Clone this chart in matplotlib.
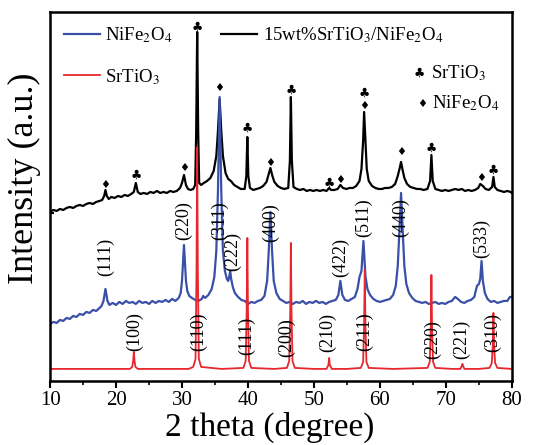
import matplotlib
matplotlib.use("Agg")
import matplotlib.pyplot as plt
from matplotlib.ticker import MultipleLocator

plt.rcParams['font.family'] = ['Liberation Serif', 'DejaVu Sans']
plt.rcParams['mathtext.fontset'] = 'stix'

# ---- data (y in arbitrary units) ----
# SrTiO3 (red)
sto_x = [10.0, 15.0, 20.0, 22.1, 22.45, 22.6, 22.7, 22.8, 22.95, 23.3, 27.0, 31.0,
         31.7, 32.05, 32.2, 32.3, 32.4, 32.55, 32.9, 36.0, 39.3, 39.65, 39.8, 39.9,
         40.0, 40.15, 40.5, 44.0, 45.9, 46.25, 46.4, 46.5, 46.6, 46.75, 47.1, 50.0,
         51.9, 52.2, 52.3, 52.4, 52.7, 55.0, 57.1, 57.45, 57.6, 57.7, 57.8, 57.95,
         58.3, 62.0, 67.2, 67.55, 67.7, 67.8, 67.9, 68.05, 68.4, 71.0, 72.2, 72.4,
         72.5, 72.6, 72.8, 75.0, 76.6, 76.95, 77.1, 77.2, 77.3, 77.45, 77.8, 80.0]
sto_y = [12, 12, 12, 12, 14, 20, 29, 20, 14, 12, 12, 12,
         14, 22, 110, 234, 110, 22, 14, 12, 13, 20, 70, 143,
         70, 20, 13, 12, 13, 20, 68, 138, 68, 20, 13, 12,
         12, 16, 23, 16, 12, 12, 13, 19, 55, 111, 55, 19,
         13, 12, 13, 19, 52, 106, 52, 19, 13, 12, 12, 15,
         17, 15, 12, 12, 13, 18, 36, 68, 36, 18, 13, 12]

# NiFe2O4 (blue)
nfo_x = [10.0, 10.5, 11.0, 11.5, 12.0, 12.5, 13.0, 13.5, 14.0, 14.5, 15.0, 15.5,
         16.0, 16.5, 17.0, 17.5, 17.8, 18.1, 18.4, 18.7, 19.0, 19.5, 20.0, 20.5,
         21.0, 21.5, 22.0, 22.5, 23.0, 23.5, 24.0, 24.5, 25.0, 25.5, 26.0, 26.5,
         27.0, 27.5, 28.0, 28.5, 29.0, 29.5, 29.8, 30.0, 30.15, 30.3, 30.45, 30.6,
         30.8, 31.1, 31.5, 32.0, 32.5, 33.0, 33.2, 33.5, 34.0, 34.5, 34.9, 35.2,
         35.45, 35.7, 35.95, 36.2, 36.5, 36.8, 37.0, 37.15, 37.3, 37.45, 37.7, 38.0,
         38.5, 39.0, 39.5, 40.0, 40.5, 41.0, 41.5, 42.0, 42.5, 42.9, 43.15, 43.4,
         43.65, 43.9, 44.3, 44.8, 45.3, 45.8, 46.3, 46.8, 47.3, 47.8, 48.3, 48.8,
         49.3, 49.8, 50.3, 50.8, 51.3, 51.8, 52.3, 52.8, 53.3, 53.7, 54.0, 54.3,
         54.7, 55.2, 55.7, 56.2, 56.6, 56.9, 57.2, 57.5, 57.8, 58.1, 58.5, 59.0,
         59.5, 60.0, 60.5, 61.0, 61.5, 62.0, 62.4, 62.7, 62.95, 63.2, 63.45, 63.7,
         64.0, 64.4, 64.9, 65.4, 65.9, 66.4, 66.9, 67.4, 67.9, 68.4, 68.9, 69.4,
         69.9, 70.4, 70.9, 71.4, 71.8, 72.3, 72.8, 73.3, 73.8, 74.3, 74.7, 75.0,
         75.2, 75.4, 75.6, 75.9, 76.3, 76.8, 77.3, 77.8, 78.3, 78.8, 79.3, 79.7, 80.0]
nfo_y = [57, 59, 58, 61, 60, 63, 62, 65, 64, 67, 66, 69,
         68, 71, 70, 73, 75, 80, 92, 80, 76, 78, 76, 79,
         77, 80, 78, 79, 77, 80, 78, 79, 77, 80, 78, 80,
         79, 81, 79, 82, 80, 83, 88, 100, 118, 136, 118, 100,
         90, 85, 83, 81, 80, 82, 85, 83, 86, 92, 104, 130,
         190, 284, 190, 130, 110, 102, 100, 104, 110, 102, 94, 88,
         84, 81, 80, 77, 79, 78, 80, 81, 85, 100, 130, 169,
         130, 100, 88, 82, 80, 78, 79, 77, 79, 78, 80, 77,
         79, 78, 80, 78, 79, 77, 79, 80, 81, 86, 100, 86,
         81, 80, 82, 84, 92, 104, 110, 140, 105, 92, 86, 82,
         80, 79, 80, 81, 82, 86, 95, 115, 150, 188, 150, 115,
         97, 88, 83, 80, 79, 78, 79, 77, 78, 79, 77, 78,
         77, 79, 80, 84, 82, 79, 78, 80, 81, 84, 95, 97,
         102, 120, 100, 88, 82, 79, 80, 78, 79, 80, 80, 84, 84]

# 15wt%SrTiO3/NiFe2O4 (black)
comp_x = [10.0, 10.5, 11.0, 11.5, 12.0, 12.5, 13.0, 13.5, 14.0, 14.5, 15.0, 15.5,
          16.0, 16.5, 17.0, 17.5, 17.9, 18.2, 18.4, 18.6, 18.9, 19.3, 19.8, 20.3,
          20.8, 21.3, 21.8, 22.3, 22.7, 23.0, 23.3, 23.7, 24.2, 24.7, 25.2, 25.7,
          26.2, 26.7, 27.2, 27.7, 28.2, 28.7, 29.2, 29.7, 30.0, 30.3, 30.6, 30.9,
          31.3, 31.7, 32.0, 32.15, 32.3, 32.45, 32.6, 32.9, 33.3, 33.8, 34.3, 34.8,
          35.2, 35.45, 35.7, 35.95, 36.2, 36.6, 37.0, 37.4, 37.9, 38.4, 38.9, 39.5,
          39.75, 39.9, 40.05, 40.3, 40.8, 41.3, 41.8, 42.3, 42.8, 43.1, 43.4, 43.7,
          44.0, 44.5, 45.0, 45.5, 46.1, 46.35, 46.5, 46.65, 46.9, 47.4, 47.9, 48.4,
          48.9, 49.4, 49.9, 50.4, 50.9, 51.4, 51.9, 52.3, 52.6, 53.1, 53.6, 54.0,
          54.4, 54.9, 55.4, 55.9, 56.4, 56.9, 57.2, 57.45, 57.6, 57.8, 58.0, 58.3,
          58.8, 59.3, 59.8, 60.3, 60.8, 61.3, 61.8, 62.3, 62.7, 63.0, 63.2, 63.4,
          63.7, 64.1, 64.6, 65.1, 65.6, 66.1, 66.6, 67.2, 67.6, 67.8, 68.0, 68.4,
          68.9, 69.4, 69.9, 70.4, 70.9, 71.4, 71.9, 72.4, 72.9, 73.4, 73.9, 74.4,
          74.9, 75.2, 75.4, 75.6, 76.0, 76.5, 77.0, 77.2, 77.4, 77.8, 78.3, 78.8,
          79.3, 79.8, 80.0]
comp_y = [169, 171, 170, 172, 171, 173, 174, 173, 175, 176, 175, 177,
          178, 177, 179, 180, 181, 185, 191, 185, 182, 184, 183, 185,
          184, 186, 185, 187, 189, 198, 189, 187, 188, 187, 189, 188,
          190, 188, 189, 188, 190, 189, 190, 193, 198, 206, 196, 192,
          191, 192, 196, 250, 349, 250, 198, 196, 198, 200, 203, 210,
          225, 250, 282, 250, 225, 208, 202, 200, 196, 194, 192, 192,
          205, 244, 205, 193, 191, 192, 193, 195, 199, 206, 213, 205,
          199, 195, 193, 192, 193, 220, 284, 220, 194, 192, 191, 192,
          190, 191, 190, 191, 190, 191, 190, 193, 191, 191, 192, 196,
          193, 192, 193, 193, 195, 200, 212, 240, 269, 240, 212, 200,
          195, 193, 192, 192, 193, 193, 194, 197, 205, 213, 219, 212,
          203, 197, 194, 193, 192, 192, 191, 192, 200, 226, 200, 192,
          191, 190, 191, 190, 191, 192, 191, 192, 190, 191, 190, 191,
          193, 197, 196, 195, 192, 191, 194, 204, 194, 191, 190, 189,
          190, 189, 188]

# phase markers above the composite peaks
club_x = [23.0, 32.3, 39.9, 46.5, 52.3, 57.6, 67.8, 77.2]
club_y = [206, 354, 253, 291, 198, 288, 233, 211]
diam_x = [18.4, 30.3, 35.7, 43.4, 54.0, 57.6, 63.2, 75.4]
diam_y = [196, 213, 293, 218, 201, 275, 229, 203]

# (hkl) labels
nfo_hkl = ['(111)', '(220)', '(311)', '(222)', '(400)', '(422)', '(511)', '(440)', '(533)']
nfo_hkl_x = [18.4, 30.3, 35.7, 37.6, 43.4, 54.0, 57.5, 63.2, 75.4]
nfo_hkl_y = [124, 160, 160, 129, 158, 123, 163, 163, 142]
sto_hkl = ['(100)', '(110)', '(111)', '(200)', '(210)', '(211)', '(220)', '(221)', '(310)']
sto_hkl_x = [22.8, 32.5, 39.8, 45.9, 52.0, 57.6, 68.0, 72.4, 77.0]
sto_hkl_y = [49, 49, 45, 43, 48, 49, 41, 41, 48]

fig = plt.figure(figsize=(5.44, 4.45), dpi=100)
ax = fig.add_axes([0.092, 0.144, 0.849, 0.829])

ax.plot(comp_x, comp_y, color='black', lw=1.6, label='15wt%SrTiO$_3$/NiFe$_2$O$_4$')
ax.plot(nfo_x, nfo_y, color='#3a4fa8', lw=1.6, label='NiFe$_2$O$_4$')
ax.plot(sto_x, sto_y, color='#e8262e', lw=1.3, label='SrTiO$_3$')

for x, y in zip(club_x, club_y):
    ax.text(x, y, '\u2663', fontsize=9, ha='center', va='center', family='DejaVu Sans')
for x, y in zip(diam_x, diam_y):
    ax.text(x, y, '\u2666', fontsize=8, ha='center', va='center', family='DejaVu Sans')

for t, x, y in zip(nfo_hkl, nfo_hkl_x, nfo_hkl_y):
    ax.text(x, y, t, fontsize=13, rotation=90, ha='center', va='center')
for t, x, y in zip(sto_hkl, sto_hkl_x, sto_hkl_y):
    ax.text(x, y, t, fontsize=13, rotation=90, ha='center', va='center')

h, l = ax.get_legend_handles_labels()
ax.legend([h[1], h[2], h[0]], [l[1], l[2], l[0]], ncol=2, loc='upper left',
          bbox_to_anchor=(0.03, 0.963), frameon=False, fontsize=13.5,
          handlelength=1.9, handletextpad=0.3, columnspacing=2.6,
          labelspacing=1.15, borderpad=0, borderaxespad=0)

ax.text(0.80, 0.835, '\u2663', transform=ax.transAxes, fontsize=9, ha='center', va='center',
        family='DejaVu Sans')
ax.text(0.825, 0.835, 'SrTiO$_3$', transform=ax.transAxes, fontsize=13.5, ha='left', va='center')
ax.text(0.805, 0.752, '\u2666', transform=ax.transAxes, fontsize=8, ha='center', va='center',
        family='DejaVu Sans')
ax.text(0.827, 0.752, 'NiFe$_2$O$_4$', transform=ax.transAxes, fontsize=13.5, ha='left', va='center')

ax.set_xlim(10, 80)
ax.set_ylim(0, 369)
ax.xaxis.set_major_locator(MultipleLocator(10))
ax.xaxis.set_minor_locator(MultipleLocator(5))
ax.set_yticks([168])
ax.set_yticklabels([])
ax.tick_params(axis='x', which='major', direction='out', length=5, width=1.5, labelsize=15, pad=2)
ax.tick_params(axis='x', which='minor', direction='out', length=3, width=1.2)
ax.tick_params(axis='y', direction='in', length=3, width=1.5)
for s in ax.spines.values():
    s.set_linewidth(1.8)

ax.set_xlabel('2 theta (degree)', fontsize=24)
ax.set_ylabel('Intensity (a.u.)', fontsize=26)
ax.xaxis.set_label_coords(0.476, -0.083)
ax.yaxis.set_label_coords(-0.02, 0.55)

fig.savefig('out.png', dpi=100)
